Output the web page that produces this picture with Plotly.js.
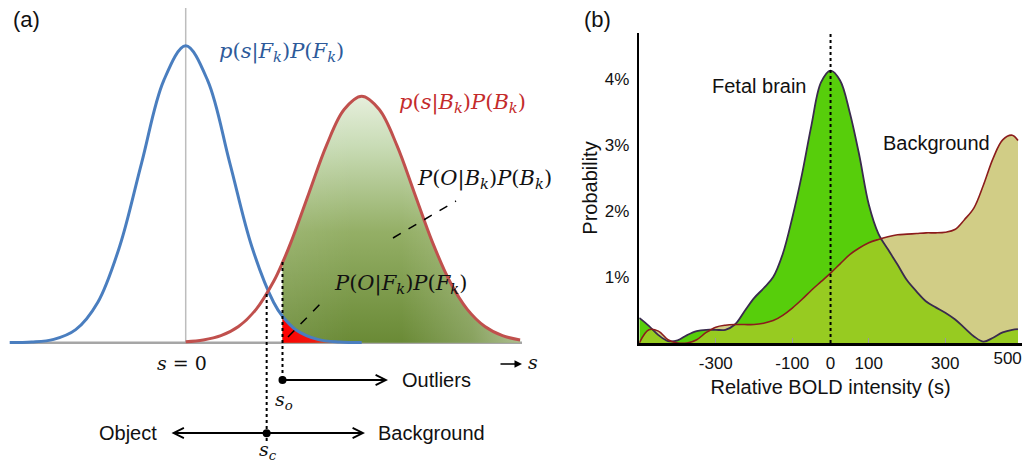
<!DOCTYPE html>
<html><head><meta charset="utf-8">
<script src="https://cdn.plot.ly/plotly-3.0.1.min.js"></script>
<style>html,body{margin:0;padding:0;background:#fff;} #chart{width:1022px;height:465px;}</style>
</head><body><div id="chart"></div>
<script>
// ---------- Panel (a): schematic class-conditional curves (s in units of object sigma) ----------
const objS = [-4,-3.5,-3,-2.5,-2,-1.5,-1,-0.5,0,0.5,1,1.5,2,2.2,2.5,3,3.5,4];
const objP = [0.0003,0.0022,0.0111,0.0439,0.1353,0.3247,0.6065,0.8825,1,0.8825,0.6065,0.3247,0.1353,0.0889,0.0439,0.0111,0.0022,0.0003];
const bgS = [0,0.4,0.8,1.2,1.6,2.0,2.2,2.4,2.8,3.2,3.6,4.0,4.4,4.8,5.2,5.6,6.0,6.4,6.8,7.2,7.6];
const bgP = [0.0032,0.0092,0.0237,0.0545,0.1123,0.207,0.2695,0.3412,0.5034,0.6646,0.7852,0.83,0.7852,0.6646,0.5034,0.3412,0.207,0.1123,0.0545,0.0237,0.0092];
const sC = 1.84;   // classification threshold
const sO = 2.2;    // outlier threshold

// ---------- Panel (b): measured distributions ----------
const boldX = [-500,-475,-450,-425,-400,-375,-350,-325,-300,-275,-250,-225,-200,-175,-150,-125,-100,-75,-50,-25,0,25,50,75,100,125,150,175,200,225,250,275,300,325,350,375,400,425,450,475,490];
const fetalPct = [0.38,0.26,0.12,0.03,0.04,0.12,0.18,0.2,0.2,0.2,0.28,0.48,0.68,0.83,1.0,1.35,1.9,2.55,3.3,3.95,4.13,3.98,3.5,2.85,2.1,1.66,1.42,1.19,0.95,0.78,0.63,0.54,0.46,0.36,0.23,0.1,0.02,0.08,0.16,0.2,0.21];
const backgroundPct = [0.0,0.2,0.18,0.05,0.0,0.0,0.05,0.16,0.24,0.27,0.28,0.28,0.28,0.3,0.34,0.42,0.53,0.66,0.8,0.93,1.06,1.2,1.34,1.44,1.52,1.57,1.61,1.64,1.65,1.66,1.67,1.67,1.68,1.72,1.87,2.05,2.4,2.8,3.08,3.15,3.07];
const xTickVals = [-300,-100,0,100,300];
const xTickText = ['-300','-100','0','100','300'];
const xTickMarks = [-300,-100,100,300];
const yTickVals = [1,2,3,4];
const yTickText = ['1%','2%','3%','4%'];

// ---------- helpers (pixel -> paper) ----------
const W = 1022, H = 465;
const px = v => v / W;
const py = v => 1 - v / H;
const SANS = 'Liberation Sans, Arial, sans-serif';
const SERIF = 'DejaVu Serif, serif';

// derived series
const greenIdx = bgS.map((v,i)=>i).filter(i => bgS[i] >= sO);
const redIdx = objS.map((v,i)=>i).filter(i => objS[i] >= sO);
const overlap = fetalPct.map((v,i)=>Math.min(v, backgroundPct[i]));

const traces = [
  // panel a
  {x: greenIdx.map(i=>bgS[i]), y: greenIdx.map(i=>bgP[i]), xaxis:'x2', yaxis:'y2', mode:'lines',
   line:{width:0, shape:'spline'}, fill:'tozeroy',
   fillgradient:{type:'vertical', start:0, stop:0.83,
     colorscale:[[0,'#6A8A36'],[0.45,'#94AF66'],[0.8,'#C9DCB6'],[1,'#E6EFDC']]},
   hoverinfo:'skip', showlegend:false},
  {x: greenIdx.map(i=>bgS[i]), y: greenIdx.map(i=>bgP[i]), xaxis:'x2', yaxis:'y2', mode:'lines',
   line:{width:0, shape:'spline'}, fill:'tozeroy',
   fillgradient:{type:'horizontal',
     colorscale:[[0,'rgba(255,255,255,0.08)'],[0.3,'rgba(255,255,255,0)'],[0.5,'rgba(255,255,255,0)'],[0.8,'rgba(255,255,255,0.2)'],[1,'rgba(255,255,255,0.45)']]},
   hoverinfo:'skip', showlegend:false},
  {x: redIdx.map(i=>objS[i]), y: redIdx.map(i=>objP[i]), xaxis:'x2', yaxis:'y2', mode:'lines',
   line:{width:0, shape:'spline'}, fill:'tozeroy',
   fillgradient:{type:'horizontal',
     colorscale:[[0,'rgba(255,0,0,1)'],[0.4,'rgba(255,10,10,0.9)'],[0.75,'rgba(255,60,60,0.3)'],[1,'rgba(255,60,60,0)']]},
   hoverinfo:'skip', showlegend:false},
  {x: objS, y: objP, xaxis:'x2', yaxis:'y2', mode:'lines',
   line:{color:'#4A7EBF', width:3, shape:'spline'}, hoverinfo:'skip', showlegend:false},
  {x: bgS, y: bgP, xaxis:'x2', yaxis:'y2', mode:'lines',
   line:{color:'#C0504D', width:3, shape:'spline'}, hoverinfo:'skip', showlegend:false},
  // panel b
  {x: boldX, y: backgroundPct, mode:'lines', line:{width:0, shape:'spline'}, fill:'tozeroy',
   fillcolor:'#D1CD86', hoverinfo:'skip', showlegend:false},
  {x: boldX, y: fetalPct, mode:'lines', line:{width:0, shape:'spline'}, fill:'tozeroy',
   fillcolor:'#57CE0B', hoverinfo:'skip', showlegend:false},
  {x: boldX, y: overlap, mode:'lines', line:{width:0, shape:'spline'}, fill:'tozeroy',
   fillcolor:'#97CB21', hoverinfo:'skip', showlegend:false},
  {x: boldX, y: fetalPct, mode:'lines', line:{color:'#3A2A4E', width:1.8, shape:'spline'},
   hoverinfo:'skip', showlegend:false, name:'Fetal brain'},
  {x: boldX, y: backgroundPct, mode:'lines', line:{color:'#8B1C1C', width:1.6, shape:'spline'},
   hoverinfo:'skip', showlegend:false, name:'Background'},
  {x: [], y: [], xaxis:'x3', yaxis:'y', showlegend:false},
  {x: [], y: [], xaxis:'x4', yaxis:'y', showlegend:false}
];

const ann = (x, y, text, opts={}) => Object.assign({
  x: px(x), y: py(y), xref:'paper', yref:'paper', text, showarrow:false,
  xanchor:'center', yanchor:'middle', font:{family:SANS, size:20, color:'#111'}}, opts);
const arrow = (x, y, ax, opts={}) => Object.assign({
  x: px(x), y: py(y), xref:'paper', yref:'paper', text:'', showarrow:true,
  ax: ax, ay: 0, arrowhead:5, arrowsize:1, arrowwidth:2, arrowcolor:'#000',
  standoff:0, startstandoff:0}, opts);

const mathFont = (c, s=21) => ({family:SERIF, size:s, color:c});
const annotations = [
  ann(26, 20, '(a)', {font:{family:SANS, size:22, color:'#111'}}),
  ann(597, 20, '(b)', {font:{family:SANS, size:22, color:'#111'}}),
  ann(281, 52, '<i>p</i>(<i>s</i>|<i>F</i><sub><i>k</i></sub>)<i>P</i>(<i>F</i><sub><i>k</i></sub>)', {font:mathFont('#2D5A9A')}),
  ann(462, 103, '<i>p</i>(<i>s</i>|<i>B</i><sub><i>k</i></sub>)<i>P</i>(<i>B</i><sub><i>k</i></sub>)', {font:mathFont('#C42B2B')}),
  ann(484, 179, '<i>P</i>(<i>O</i>|<i>B</i><sub><i>k</i></sub>)<i>P</i>(<i>B</i><sub><i>k</i></sub>)', {font:mathFont('#111')}),
  ann(400, 284, '<i>P</i>(<i>O</i>|<i>F</i><sub><i>k</i></sub>)<i>P</i>(<i>F</i><sub><i>k</i></sub>)', {font:mathFont('#111')}),
  ann(182, 363, '<i>s</i> = 0', {font:mathFont('#111', 19)}),
  ann(284, 400, '<i>s</i><sub><i>o</i></sub>', {font:mathFont('#111', 19)}),
  ann(268, 450, '<i>s</i><sub><i>c</i></sub>', {font:mathFont('#111', 19)}),
  ann(533, 362, '<i>s</i>', {font:mathFont('#111', 19)}),
  ann(400, 380, 'Outliers', {xanchor:'left'}),
  ann(159, 433, 'Object', {xanchor:'right'}),
  ann(376, 433, 'Background', {xanchor:'left'}),
  ann(759, 86, 'Fetal brain'),
  ann(936, 143, 'Background'),
  arrow(388, 380, -105),
  arrow(365, 433, -195, {arrowside:'end+start'}),
  arrow(522, 364, -23, {arrowhead:2, arrowwidth:1.5, arrowsize:1})
];

const shapes = [
  {type:'line', xref:'x2', yref:'paper', x0:0, x1:0, y0:py(342.7), y1:py(8), line:{color:'#BDBDBD', width:1.5}, layer:'below'},
  {type:'line', xref:'paper', yref:'y2', x0:px(12), x1:px(522), y0:0, y1:0, line:{color:'#A6A6A6', width:2.5}, layer:'below'},
  {type:'line', xref:'x2', yref:'paper', x0:sC, x1:sC, y0:py(294), y1:py(444), line:{color:'#000', width:2, dash:'dot'}},
  {type:'line', xref:'x2', yref:'paper', x0:sO, x1:sO, y0:py(262), y1:py(380), line:{color:'#000', width:2, dash:'dot'}},
  {type:'line', xref:'paper', yref:'paper', x0:px(288), y0:py(337), x1:px(324), y1:py(300), line:{color:'#000', width:1.5, dash:'dash'}},
  {type:'line', xref:'paper', yref:'paper', x0:px(393), y0:py(238), x1:px(456), y1:py(201), line:{color:'#000', width:1.5, dash:'dash'}},
  {type:'circle', xref:'x2', yref:'paper', xsizemode:'pixel', ysizemode:'pixel', xanchor:sO, yanchor:py(380),
   x0:-4, x1:4, y0:-4, y1:4, fillcolor:'#000', line:{width:0}},
  {type:'circle', xref:'x2', yref:'paper', xsizemode:'pixel', ysizemode:'pixel', xanchor:sC, yanchor:py(433.3),
   x0:-4, x1:4, y0:-4, y1:4, fillcolor:'#000', line:{width:0}},
  {type:'line', xref:'x', yref:'paper', x0:0, x1:0, y0:py(343), y1:py(33), line:{color:'#000', width:2, dash:'dot'}}
];

const bDomX = [px(639.3), px(1021.8)];
const tickFont = {family:SANS, size:17, color:'#111'};
const layout = {
  width: W, height: H, margin:{l:0, r:0, t:0, b:0},
  paper_bgcolor:'#fff', plot_bgcolor:'rgba(0,0,0,0)', showlegend:false,
  xaxis2:{domain:[0, px(540)], range:[-185.7/44, (540-185.7)/44], visible:false, anchor:'y2', fixedrange:true},
  yaxis2:{domain:[0,1], range:[-(465-342.7)/297, 342.7/297], visible:false, anchor:'x2', fixedrange:true},
  xaxis:{domain:bDomX, range:[-500,500], anchor:'y', showline:true, linecolor:'#000', linewidth:2.5,
    tickvals:xTickVals, ticktext:xTickText, ticks:'', tickfont:tickFont, ticklabelstandoff:3,
    showgrid:false, zeroline:false, fixedrange:true,
    title:{text:'Relative BOLD intensity (s)', standoff:8, font:{family:SANS, size:20, color:'#111'}}},
  xaxis3:{domain:bDomX, range:[-500,500], anchor:'y', overlaying:'x', tickvals:xTickMarks,
    ticks:'inside', ticklen:5, tickwidth:1, tickcolor:'#999', showticklabels:false,
    showline:false, showgrid:false, zeroline:false, fixedrange:true},
  xaxis4:{domain:bDomX, range:[-500,500], anchor:'y', overlaying:'x', tickvals:[500], ticktext:['500'],
    ticks:'', ticklabelposition:'outside left', ticklabeloverflow:'allow', tickfont:tickFont, ticklabelstandoff:3,
    showline:false, showgrid:false, zeroline:false, fixedrange:true},
  yaxis:{domain:[1-343/H, 1-33/H], range:[0,4.7], anchor:'x', showline:true, linecolor:'#000', linewidth:2.5,
    tickvals:yTickVals, ticktext:yTickText, ticks:'', tickfont:tickFont, ticklabelstandoff:4,
    showgrid:false, zeroline:false, fixedrange:true,
    title:{text:'Probability', standoff:2, font:{family:SANS, size:20, color:'#111'}}},
  annotations, shapes
};
Plotly.newPlot('chart', traces, layout, {displayModeBar:false, staticPlot:true});
</script></body></html>
